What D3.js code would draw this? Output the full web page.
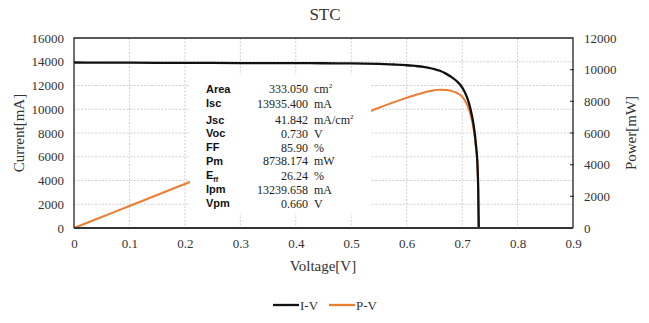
<!DOCTYPE html>
<html>
<head>
<meta charset="utf-8">
<title>STC</title>
<style>
  body { margin: 0; background: #fff; }
  svg { display: block; }
  .tick text { font-family: "Liberation Serif", serif; font-size: 13px; fill: #333; }
</style>
</head>
<body>
<svg id="chart" width="649" height="323"></svg>
<script src="https://d3js.org/d3.v7.min.js"></script>
<script>
// measured I-V / P-V points
var voltage = [0, 0.05, 0.1, 0.15, 0.2, 0.25, 0.3, 0.35, 0.4, 0.45, 0.5,
               0.55, 0.56, 0.57, 0.58, 0.59, 0.60, 0.61, 0.62, 0.63, 0.64, 0.65, 0.66, 0.67, 0.68, 0.69, 0.70,
               0.705, 0.71, 0.715, 0.72, 0.725, 0.728, 0.729, 0.730];
var current = [13935, 13928, 13920, 13912, 13905, 13898, 13892, 13886, 13880, 13872, 13862,
               13815, 13800, 13783, 13762, 13737, 13705, 13668, 13622, 13565, 13490, 13385, 13240, 13020, 12740, 12380, 11850,
               11420, 10850, 10050, 8900, 7000, 5000, 3400, 0];
var power = [0, 696, 1392, 2087, 2781, 3475, 4168, 4860, 5552, 6242, 6931,
             7598, 7728, 7856, 7982, 8105, 8223, 8337, 8446, 8546, 8634, 8700, 8738, 8723, 8663, 8542, 8295,
             8051, 7704, 7186, 6408, 5075, 3640, 2479, 0];

var xTicks = [0, 0.1, 0.2, 0.3, 0.4, 0.5, 0.6, 0.7, 0.8, 0.9];
var yLeftTicks = [0, 2000, 4000, 6000, 8000, 10000, 12000, 14000, 16000];
var yRightTicks = [0, 2000, 4000, 6000, 8000, 10000, 12000];

// cell parameters
var paramNames = ["Area", "Isc", "Jsc", "Voc", "FF", "Pm", "Eff", "Ipm", "Vpm"];
var paramValues = ["333.050", "13935.400", "41.842", "0.730", "85.90", "8738.174", "26.24", "13239.658", "0.660"];
var paramUnits = ["cm2", "mA", "mA/cm2", "V", "%", "mW", "%", "mA", "V"];

var svg = d3.select("#chart");
var plotL = 74, plotR = 573, plotT = 38, plotB = 228;

var x = d3.scaleLinear().domain([0, 0.9]).range([plotL, plotR]);
var yI = d3.scaleLinear().domain([0, 16000]).range([plotB, plotT]);
var yP = d3.scaleLinear().domain([0, 12000]).range([plotB, plotT]);

// grid
var grid = svg.append("g").attr("stroke", "#d0d0d0").attr("stroke-width", 1).attr("stroke-dasharray", "2,1.5");
grid.selectAll(".gx").data(xTicks.slice(1, -1)).enter().append("line")
  .attr("x1", function(d) { return x(d); }).attr("x2", function(d) { return x(d); })
  .attr("y1", plotT).attr("y2", plotB);
grid.selectAll(".gy").data(yLeftTicks.slice(1, -1)).enter().append("line")
  .attr("x1", plotL).attr("x2", plotR)
  .attr("y1", function(d) { return yI(d); }).attr("y2", function(d) { return yI(d); });

// axes (labels only)
svg.append("g").attr("transform", "translate(0," + plotB + ")")
  .call(d3.axisBottom(x).tickValues(xTicks).tickSize(0).tickPadding(11).tickFormat(d3.format("")))
  .call(function(g) { g.select(".domain").remove(); });
svg.append("g").attr("transform", "translate(" + plotL + ",0)")
  .call(d3.axisLeft(yI).tickValues(yLeftTicks).tickSize(0).tickPadding(10).tickFormat(d3.format("")))
  .call(function(g) { g.select(".domain").remove(); });
svg.append("g").attr("transform", "translate(" + plotR + ",0)")
  .call(d3.axisRight(yP).tickValues(yRightTicks).tickSize(0).tickPadding(11).tickFormat(d3.format("")))
  .call(function(g) { g.select(".domain").remove(); });

// small ticks on the power axis
svg.append("g").selectAll("line").data(yRightTicks.slice(1, -1)).enter().append("line")
  .attr("x1", plotR - 3).attr("x2", plotR + 1)
  .attr("y1", function(d) { return yP(d); }).attr("y2", function(d) { return yP(d); })
  .attr("stroke", "#404040").attr("stroke-width", 1.2);

// curves
var ivLine = d3.line().x(function(d, i) { return x(voltage[i]); }).y(function(d) { return yI(d); })
  .curve(d3.curveMonotoneX);
var pvLine = d3.line().x(function(d, i) { return x(voltage[i]); }).y(function(d) { return yP(d); })
  .curve(d3.curveMonotoneX);

svg.append("path").datum(power).attr("d", pvLine)
  .attr("fill", "none").attr("stroke", "#ED7D31").attr("stroke-width", 2);
svg.append("path").datum(current).attr("d", ivLine)
  .attr("fill", "none").attr("stroke", "#111").attr("stroke-width", 2.3);

// plot frame
svg.append("path")
  .attr("d", "M" + plotL + "," + plotB + "V" + plotT + "H" + plotR + "V" + plotB)
  .attr("fill", "none").attr("stroke", "#222").attr("stroke-width", 1.3);
svg.append("line").attr("x1", plotL).attr("x2", plotR).attr("y1", plotB).attr("y2", plotB)
  .attr("stroke", "#333").attr("stroke-width", 2.2);

// parameter box
var box = svg.append("g");
box.append("rect").attr("x", 190).attr("y", 74).attr("width", 181).attr("height", 140).attr("fill", "#fff");
var rowY = [89, 103.5, 120, 133.5, 147.5, 161, 175.5, 189.5, 203.5];
paramNames.forEach(function(name, i) {
  var t = box.append("text").attr("x", 206).attr("y", rowY[i]).attr("dy", "0.35em")
    .attr("font-family", "Liberation Sans, Arial, sans-serif").attr("font-weight", "bold")
    .attr("font-size", 11).attr("fill", "#111");
  if (name === "Eff") {
    t.append("tspan").text("E");
    t.append("tspan").text("ff").attr("font-size", 7).attr("dy", "3");
  } else {
    t.text(name);
  }
  box.append("text").attr("x", 308).attr("y", rowY[i]).attr("dy", "0.35em").attr("text-anchor", "end")
    .attr("font-family", "Liberation Serif, serif").attr("font-size", 12).attr("fill", "#222")
    .text(paramValues[i]);
  var u = box.append("text").attr("x", 314).attr("y", rowY[i]).attr("dy", "0.35em")
    .attr("font-family", "Liberation Serif, serif").attr("font-size", 12).attr("fill", "#222");
  var unit = paramUnits[i];
  if (unit.slice(-1) === "2") {
    u.append("tspan").text(unit.slice(0, -1));
    u.append("tspan").text("2").attr("font-size", 7).attr("dy", "-5");
  } else {
    u.text(unit);
  }
});

// titles
svg.append("text").attr("x", 325).attr("y", 14).attr("dy", "0.35em").attr("text-anchor", "middle")
  .attr("font-family", "Liberation Serif, serif").attr("font-size", 17).attr("fill", "#333").text("STC");
svg.append("text").attr("x", 323).attr("y", 266).attr("dy", "0.35em").attr("text-anchor", "middle")
  .attr("font-family", "Liberation Serif, serif").attr("font-size", 15).attr("fill", "#333").text("Voltage[V]");
svg.append("text").attr("transform", "translate(19,133) rotate(-90)").attr("dy", "0.35em")
  .attr("text-anchor", "middle").attr("font-family", "Liberation Serif, serif").attr("font-size", 15)
  .attr("fill", "#333").text("Current[mA]");
svg.append("text").attr("transform", "translate(631,133) rotate(-90)").attr("dy", "0.35em")
  .attr("text-anchor", "middle").attr("font-family", "Liberation Serif, serif").attr("font-size", 15)
  .attr("fill", "#333").text("Power[mW]");

// legend
var legendItems = [{ name: "I-V", color: "#111", x: 273 }, { name: "P-V", color: "#ED7D31", x: 329 }];
var legend = svg.append("g").selectAll("g").data(legendItems).enter().append("g");
legend.append("line").attr("x1", function(d) { return d.x; }).attr("x2", function(d) { return d.x + 26; })
  .attr("y1", 305).attr("y2", 305).attr("stroke", function(d) { return d.color; }).attr("stroke-width", 2.3);
legend.append("text").attr("x", function(d) { return d.x + 27; }).attr("y", 305).attr("dy", "0.35em")
  .attr("font-family", "Liberation Serif, serif").attr("font-size", 13).attr("fill", "#333")
  .text(function(d) { return d.name; });
</script>
</body>
</html>
